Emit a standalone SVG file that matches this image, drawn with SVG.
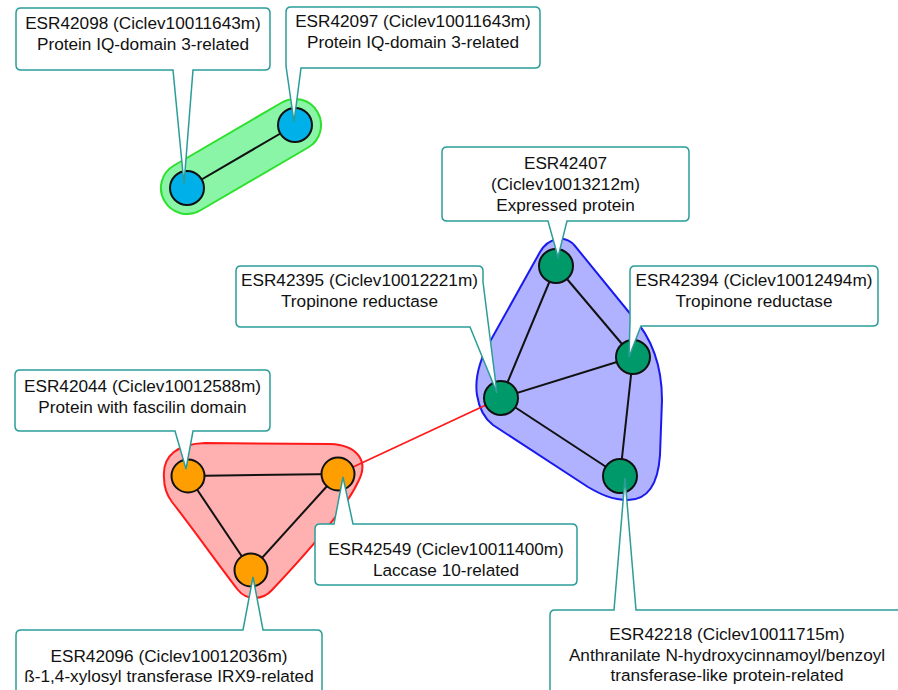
<svg xmlns="http://www.w3.org/2000/svg" width="898" height="690" viewBox="0 0 898 690">
<style>
.hull{stroke-width:2}
.edge{stroke:#111;stroke-width:2;fill:none}
.node{stroke:#111;stroke-width:2}
.blue{fill:#00b0e8}
.green{fill:#009a6a}
.orange{fill:#ff9e00}
.call{fill:#fff;stroke:#2a9d98;stroke-width:1.5;stroke-linejoin:miter}
text{font-family:"Liberation Sans",Arial,sans-serif;font-size:17.2px;fill:#111;text-anchor:middle}
</style>
<rect width="898" height="690" fill="#fff"/>
<g id="hulls">
<path class="hull" fill="#8af5a6" stroke="#2ee02e" stroke-width="2.5" d="M173.9,165.5 L281.9,102.5 A26,26 0 0 1 308.1,147.5 L200.1,210.5 A26,26 0 0 1 173.9,165.5 Z"/>
<path class="hull" fill="#ffb0b0" stroke="#ff1a1a" d="M164,478 C162,455 178,444 205,443 L330,444 C356,445 370,460 358,482 C345,510 305,555 272,590 C262,601 246,600 238,590 C215,560 188,522 172,502 C166,494 164,486 164,478 Z"/>
<path class="hull" fill="#b0b2ff" stroke="#1a1aee" d="M477,395 C474,375 482,355 492,338 L540,252 C548,238 565,234 575,246 L632,316 C652,338 662,365 662,400 L660,455 C658,485 648,500 628,500 C612,500 600,494 588,487 L493,425 C484,418 479,408 477,395 Z"/>
</g>
<g id="connectors">
<line class="edge" x1="187" y1="188" x2="295" y2="125"/>
<line class="edge" x1="556" y1="266" x2="633" y2="357"/>
<line class="edge" x1="556" y1="266" x2="501" y2="398"/>
<line class="edge" x1="633" y1="357" x2="501" y2="398"/>
<line class="edge" x1="633" y1="357" x2="620" y2="476"/>
<line class="edge" x1="501" y1="398" x2="620" y2="476"/>
<line class="edge" x1="188" y1="476" x2="338" y2="474"/>
<line class="edge" x1="188" y1="476" x2="251" y2="570"/>
<line class="edge" x1="338" y1="474" x2="251" y2="570"/>
<line x1="501" y1="398" x2="338" y2="474" stroke="#ff1a1a" stroke-width="1.8"/>
</g>
<g id="n-ESR42098"><circle class="node blue" cx="187" cy="188" r="17"/></g>
<g id="n-ESR42097"><circle class="node blue" cx="295" cy="125" r="17"/></g>
<g id="n-ESR42407"><circle class="node green" cx="556" cy="266" r="17"/></g>
<g id="n-ESR42394"><circle class="node green" cx="633" cy="357" r="17"/></g>
<g id="n-ESR42395"><circle class="node green" cx="501" cy="398" r="17"/></g>
<g id="n-ESR42218"><circle class="node green" cx="620" cy="476" r="17"/></g>
<g id="n-ESR42044"><circle class="node orange" cx="188" cy="476" r="16.5"/></g>
<g id="n-ESR42549"><circle class="node orange" cx="338" cy="474" r="16.5"/></g>
<g id="n-ESR42096"><circle class="node orange" cx="251" cy="570" r="16.5"/></g>

<g id="c-ESR42098">
<path class="call" d="M21,8 H265 Q270,8 270,13 V65 Q270,70 265,70 H193 L184,184 L173,70 H21 Q16,70 16,65 V13 Q16,8 21,8 Z"/>
<text x="143" y="29">ESR42098 (Ciclev10011643m)</text>
<text x="143" y="50">Protein IQ-domain 3-related</text>
</g>
<g id="c-ESR42097">
<path class="call" d="M291,7 H535 Q540,7 540,12 V63 Q540,68 535,68 H301 L294,122 L286,66 V12 Q286,7 291,7 Z"/>
<text x="413" y="27">ESR42097 (Ciclev10011643m)</text>
<text x="413" y="48">Protein IQ-domain 3-related</text>
</g>
<g id="c-ESR42407">
<path class="call" d="M447,147 H684 Q689,147 689,152 V216 Q689,221 684,221 H567 L558,257 L548,221 H447 Q442,221 442,216 V152 Q442,147 447,147 Z"/>
<text x="565.5" y="169">ESR42407</text>
<text x="565.5" y="190">(Ciclev10013212m)</text>
<text x="565.5" y="211">Expressed protein</text>
</g>
<g id="c-ESR42394">
<path class="call" d="M635,266 H873 Q878,266 878,271 V321 Q878,326 873,326 H641 L629,357 L630,322 V271 Q630,266 635,266 Z"/>
<text x="754" y="286">ESR42394 (Ciclev10012494m)</text>
<text x="754" y="307">Tropinone reductase</text>
</g>
<g id="c-ESR42395">
<path class="call" d="M241,266 H478 Q483,266 483,271 V282 L497,393 L470,327 H241 Q236,327 236,322 V271 Q236,266 241,266 Z"/>
<text x="359.5" y="286">ESR42395 (Ciclev10012221m)</text>
<text x="359.5" y="307">Tropinone reductase</text>
</g>
<g id="c-ESR42044">
<path class="call" d="M20,370 H265 Q270,370 270,375 V426 Q270,431 265,431 H193 L186,469 L175,431 H20 Q15,431 15,426 V375 Q15,370 20,370 Z"/>
<text x="142.5" y="392">ESR42044 (Ciclev10012588m)</text>
<text x="142.5" y="413">Protein with fascilin domain</text>
</g>
<g id="c-ESR42549">
<path class="call" d="M320,524 H334 L343,477 L353,524 H572 Q577,524 577,529 V580 Q577,585 572,585 H320 Q315,585 315,580 V529 Q315,524 320,524 Z"/>
<text x="446" y="555">ESR42549 (Ciclev10011400m)</text>
<text x="446" y="576">Laccase 10-related</text>
</g>
<g id="c-ESR42096">
<path class="call" d="M21,630 H243 L253,577 L263,630 H317 Q322,630 322,635 V700 H16 V635 Q16,630 21,630 Z"/>
<text x="169" y="662">ESR42096 (Ciclev10012036m)</text>
<text x="169" y="682">ß-1,4-xylosyl transferase IRX9-related</text>
</g>
<g id="c-ESR42218">
<path class="call" d="M555,610 H614 L625,478 L636,610 H910 V700 H550 V615 Q550,610 555,610 Z"/>
<text x="727" y="640">ESR42218 (Ciclev10011715m)</text>
<text x="727" y="661">Anthranilate N-hydroxycinnamoyl/benzoyl</text>
<text x="727" y="681">transferase-like protein-related</text>
</g>
</svg>
